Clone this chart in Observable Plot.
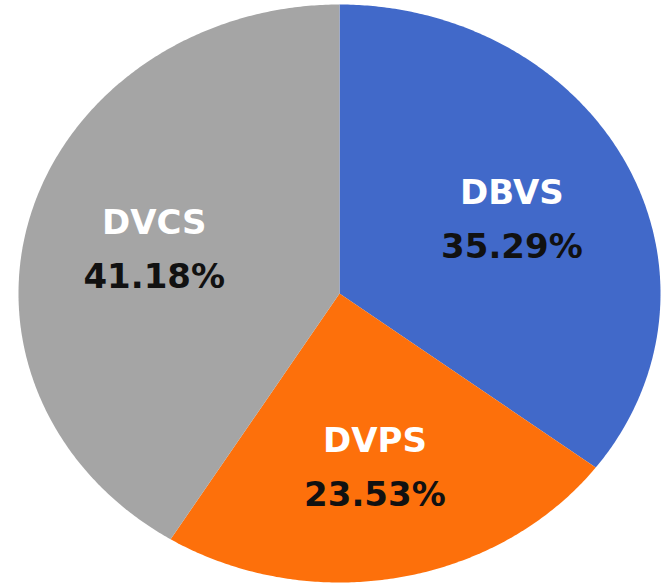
<!DOCTYPE html>
<html>
<head>
<meta charset="utf-8">
<script src="https://cdn.jsdelivr.net/npm/d3@7"></script>
<script src="https://cdn.jsdelivr.net/npm/@observablehq/plot@0.6"></script>
<style>
  html, body { margin: 0; padding: 0; background: #fff; }
</style>
</head>
<body>
<div id="chart"></div>
<script>
const categories = ["DBVS", "DVPS", "DVCS"];
const values = [35.29, 23.53, 41.18];
const labels = ["35.29%", "23.53%", "41.18%"];
const colors = ["#4169c9", "#fd700b", "#a5a5a5"];

const total = d3.sum(values);
const slices = [];
const labelRows = [];
let acc = 0;
categories.forEach((name, i) => {
  const a0 = acc / total * 2 * Math.PI;
  acc += values[i];
  const a1 = acc / total * 2 * Math.PI;
  slices.push({name, x: 0, y: 0});
  const n = Math.max(2, Math.ceil((a1 - a0) / (Math.PI / 360)));
  for (let k = 0; k <= n; k++) {
    const a = a0 + (a1 - a0) * k / n;
    slices.push({name, x: Math.sin(a), y: Math.cos(a)});
  }
  const am = (a0 + a1) / 2;
  labelRows.push({name, pct: labels[i], x: 0.6 * Math.sin(am), y: 0.6 * Math.cos(am)});
});

const chart = Plot.plot({
  width: 664,
  height: 584,
  margin: 0,
  x: {domain: [-1, 1], range: [18, 660], axis: null},
  y: {domain: [-1, 1], range: [582, 4], axis: null},
  color: {domain: categories, range: colors},
  marks: [
    Plot.line(slices, {x: "x", y: "y", z: "name", fill: "name", stroke: "none", curve: "linear-closed"}),
    Plot.text(labelRows, {x: "x", y: "y", text: "name", dy: -23, fill: "white", fontSize: 34, fontWeight: "bold", fontFamily: "DejaVu Sans"}),
    Plot.text(labelRows, {x: "x", y: "y", text: "pct", dy: 31, fill: "#111", fontSize: 34, fontWeight: "bold", fontFamily: "DejaVu Sans"})
  ]
});
document.getElementById("chart").appendChild(chart);
</script>
</body>
</html>
